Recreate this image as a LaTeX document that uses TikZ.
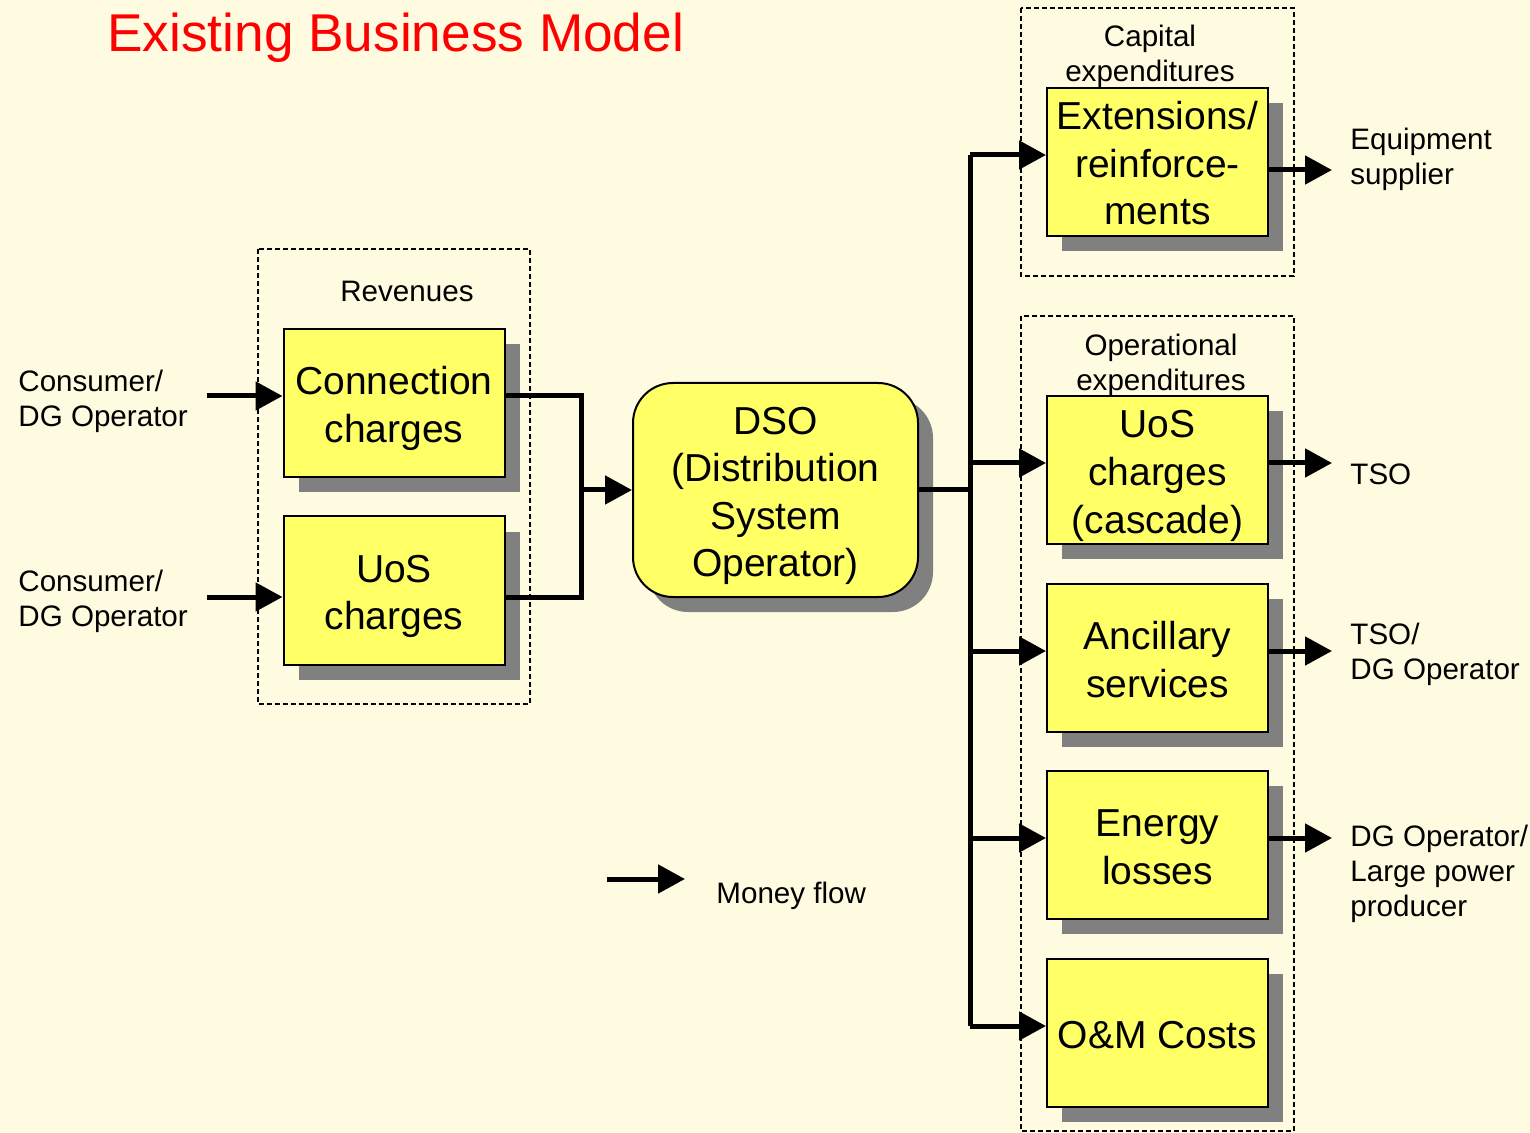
\documentclass[tikz,border=0pt]{standalone}
\usepackage{fontspec}
\setmainfont{Liberation Sans}
\usetikzlibrary{arrows.meta,shadows}
\definecolor{bgcol}{RGB}{255,251,224}
\definecolor{boxyellow}{RGB}{255,255,102}
\definecolor{shadowgray}{RGB}{128,128,128}
\newcommand\boxfont{\fontsize{19.5}{23.75}\selectfont}
\newcommand\lblfont{\fontsize{14.8}{17.5}\selectfont}
\newcommand\bs{\rule[-4.1pt]{0pt}{23.7pt}}
\begin{document}
\begin{tikzpicture}[x=0.5pt,y=-0.5pt,
  yellowbox/.style={draw=black,line width=1pt,fill=boxyellow,minimum width=110.5pt,minimum height=74pt,inner sep=0pt,align=center,font=\boxfont,
    drop shadow={shadow xshift=7.5pt,shadow yshift=-7.5pt,fill=shadowgray,opacity=1}},
  groupbox/.style={draw=black,line width=0.6pt,dash pattern=on 2.5pt off 1.5pt},
  flow/.style={line width=2.5pt,miter limit=10},
  flowarrow/.style={flow,-{Triangle[length=13.5pt,width=14pt]}},
  lbl/.style={font=\lblfont,align=left,inner sep=0pt},
  grplbl/.style={font=\lblfont,align=center,inner sep=0pt}]
\useasboundingbox (0,0) rectangle (1530,1133);
\fill[bgcol] (0,0) rectangle (1530,1133);

% title
\node[anchor=base west,inner sep=0pt,text=red,font=\fontsize{26.6}{32}\selectfont] (title) at (107,52) {Existing Business Model};

% group boxes
\draw[groupbox] (258,249) rectangle (530,704);
\node[grplbl] (revlbl) at (407,291) {Revenues};
\draw[groupbox] (1021,8) rectangle (1294,276);
\node[grplbl] (caplbl) at (1150,56.5) {Capital\\expenditures};
\draw[groupbox] (1021,316) rectangle (1294,1131);
\node[grplbl] (oplbl) at (1161,365) {Operational\\expenditures};

% boxes
\node[yellowbox] (conn) at (394,403) {\bs Connection\bs\\\bs charges\bs};
\node[yellowbox] (uos) at (394,590.5) {\bs UoS\bs\\\bs charges\bs};
\node[yellowbox,rounded corners=20pt,minimum width=142.5pt,minimum height=107pt] (dso) at (775.5,490) {\bs DSO\bs\\\bs(Distribution\bs\\\bs System\bs\\\bs Operator)\bs};
\node[yellowbox] (ext) at (1157.5,162) {\bs Extensions/\bs\\\bs reinforce-\bs\\\bs ments\bs};
\node[yellowbox] (uosc) at (1157.5,470) {\bs UoS\bs\\\bs charges\bs\\\bs(cascade)\bs};
\node[yellowbox] (anc) at (1157.5,658) {\bs Ancillary\bs\\\bs services\bs};
\node[yellowbox] (energy) at (1157.5,845) {\bs Energy\bs\\\bs losses\bs};
\node[yellowbox] (om) at (1157.5,1032.5) {\bs O\&M Costs\bs};

% left labels
\node[lbl,anchor=west] (cons1) at (18,401) {Consumer/\\DG Operator};
\node[lbl,anchor=west] (cons2) at (18,601) {Consumer/\\DG Operator};
\coordinate (src1) at (207,396);
\coordinate (src2) at (207,597);
\draw[flowarrow] (src1) -- (src1 -| conn.west);
\draw[flowarrow] (src2) -- (src2 -| uos.west);

% merge into DSO
\coordinate (j1) at (581,396);
\coordinate (j2) at (581,597);
\coordinate (jm) at (581,490);
\draw[flow] (src1 -| conn.east) -- (j1) -- (j2) -- (src2 -| uos.east);
\draw[flowarrow] (jm) -- (jm -| dso.west);

% bus to costs
\coordinate (bt) at (970,155);
\coordinate (b2) at (970,463);
\coordinate (b3) at (970,651);
\coordinate (b4) at (970,838);
\coordinate (bb) at (970,1026);
\draw[flow] (dso.east |- 0,490) -- (970,490);
\draw[flow] (bt) -- (bb);
\draw[flowarrow] (bt) -- (bt -| ext.west);
\draw[flowarrow] (b2) -- (b2 -| uosc.west);
\draw[flowarrow] (b3) -- (b3 -| anc.west);
\draw[flowarrow] (b4) -- (b4 -| energy.west);
\draw[flowarrow] (bb) -- (bb -| om.west);

% right labels
\node[lbl,anchor=west] (equip) at (1350,159) {Equipment\\supplier};
\node[lbl,anchor=west] (tso) at (1350,474) {TSO};
\node[lbl,anchor=west] (tsodg) at (1350,654) {TSO/\\DG Operator};
\node[lbl,anchor=west] (dglpp) at (1350,873.5) {DG Operator/\\Large power\\producer};
\coordinate (o1) at (1332,170);
\coordinate (o2) at (1332,463);
\coordinate (o3) at (1332,651);
\coordinate (o4) at (1332,838);
\draw[flowarrow] (o1 -| ext.east) -- (o1);
\draw[flowarrow] (o2 -| uosc.east) -- (o2);
\draw[flowarrow] (o3 -| anc.east) -- (o3);
\draw[flowarrow] (o4 -| energy.east) -- (o4);

% legend
\coordinate (lg1) at (607,879);
\coordinate (lg2) at (685,879);
\draw[flowarrow] (lg1) -- (lg2);
\node[lbl,anchor=west] (money) at (716,896) {Money flow};
\end{tikzpicture}
\end{document}
